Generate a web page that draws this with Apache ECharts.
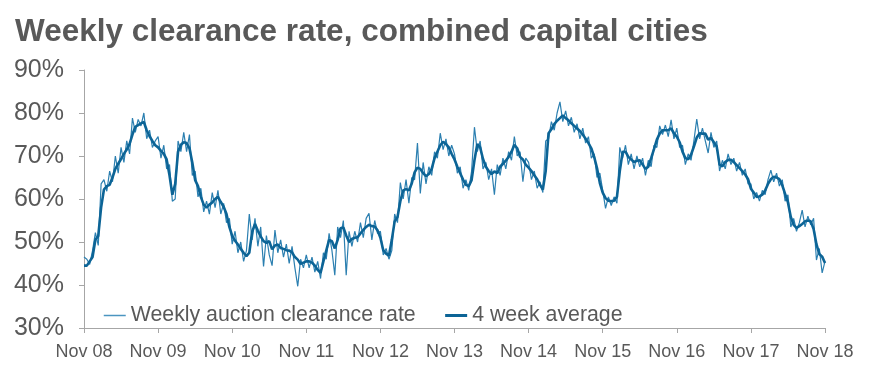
<!DOCTYPE html>
<html>
<head>
<meta charset="utf-8">
<script src="https://cdn.jsdelivr.net/npm/echarts@6/dist/echarts.min.js"></script>
<style>
html,body{margin:0;padding:0;background:#fff;}
#c{width:895px;height:382px;}
</style>
</head>
<body>
<div id="c"></div>
<script>
// x-axis tick labels (one per year, Nov 08 .. Nov 18)
var tickLabels = ['Nov 08','Nov 09','Nov 10','Nov 11','Nov 12','Nov 13','Nov 14','Nov 15','Nov 16','Nov 17','Nov 18'];
// samples every two weeks (26 per year), starting Nov 08
var pointsPerYear = 26;

var weekly = [
46.5,46.0,44.8,48.0,52.2,49.2,63.5,64.5,61.8,66.5,64.0,70.0,66.0,72.0,68.5,73.5,70.5,78.8,75.5,78.5,77.0,80.0,74.0,76.0,72.0,73.5,
74.5,69.5,72.5,67.0,68.0,59.5,60.0,73.5,71.0,75.5,71.0,75.0,65.5,66.5,60.5,62.5,57.0,59.5,56.5,61.5,58.0,62.0,56.5,59.0,54.5,55.5,
49.5,52.5,47.5,50.0,45.5,48.0,56.5,50.5,55.5,49.0,53.5,44.3,51.5,47.0,44.5,52.8,47.5,50.5,46.5,49.5,45.0,49.0,44.0,39.7,46.0,44.0,
47.0,44.0,46.5,43.0,45.5,41.5,47.5,46.0,52.0,48.0,42.3,53.5,51.0,55.0,42.3,52.5,49.0,52.5,50.0,54.5,51.0,55.5,56.7,50.5,55.0,52.0,
52.5,47.0,48.5,46.0,48.0,56.5,54.5,63.8,60.0,64.5,59.0,65.0,64.5,73.0,61.3,68.5,63.5,67.5,65.5,71.0,69.5,75.3,71.5,74.0,70.0,72.5,
70.5,66.0,67.5,62.5,64.5,62.0,66.5,76.7,71.0,73.5,67.0,68.5,64.5,67.0,61.0,68.0,65.5,69.5,67.0,71.0,69.0,74.5,70.0,71.0,64.0,69.5,
68.5,64.5,66.5,62.5,64.0,61.5,73.5,74.0,78.0,76.0,80.0,82.6,78.0,80.5,77.0,79.0,75.5,77.5,74.0,76.5,73.0,74.5,69.5,70.5,65.0,66.0,
62.0,57.8,60.5,58.5,60.5,59.0,72.0,69.5,72.5,68.0,70.5,67.0,70.0,67.5,69.5,65.5,69.0,67.5,72.5,72.0,77.0,75.0,77.2,74.5,78.4,74.0,
76.5,72.0,72.5,68.0,70.5,69.0,73.5,78.6,74.0,76.5,73.5,70.7,75.5,72.0,73.5,66.5,69.0,67.0,70.5,68.0,69.5,66.5,68.5,65.5,67.0,63.5,
63.5,60.0,61.5,59.5,62.0,61.0,64.5,66.7,64.0,66.0,63.0,64.5,59.5,61.0,53.5,55.5,52.5,54.5,57.4,53.5,56.0,54.0,55.5,45.8,48.5,42.8,45.5
];

var average4w = [
44.5,44.5,45.5,46.5,50.5,51.4,58.0,62.2,63.0,63.3,65.0,67.0,68.2,69.3,70.5,71.5,72.8,75.0,76.8,77.2,77.6,77.9,76.0,74.6,73.5,72.5,
72.0,71.2,70.5,69.2,65.5,61.0,63.5,71.0,72.6,73.2,73.0,71.8,68.5,64.4,63.0,60.5,58.7,58.0,58.7,59.2,60.0,60.5,59.3,58.2,56.5,53.5,
51.4,50.3,49.4,48.4,47.5,46.7,47.5,52.4,54.2,52.6,51.3,50.2,49.8,50.2,48.3,49.2,49.4,48.6,48.4,48.1,48.0,47.6,46.5,45.9,44.9,45.2,
45.5,45.5,45.2,44.5,43.5,42.8,45.5,48.0,50.5,50.2,48.5,50.5,53.2,53.4,51.5,50.0,50.7,51.0,51.1,52.0,52.8,53.5,54.0,53.7,53.6,52.7,
51.0,48.1,47.3,46.8,50.5,54.8,55.8,59.5,62.0,62.3,62.0,63.6,66.2,67.3,67.0,66.0,65.3,65.8,67.0,69.5,71.0,72.5,73.3,72.8,72.0,70.5,
69.2,67.5,66.0,64.5,63.3,63.0,64.4,69.0,72.8,72.0,69.3,67.5,66.5,65.8,66.4,66.0,67.5,68.2,68.9,69.8,71.0,72.6,71.8,69.8,69.2,68.0,
67.3,66.5,65.5,64.6,63.3,62.2,66.5,75.3,76.2,77.4,78.2,78.8,79.4,78.8,78.3,77.6,77.0,76.4,75.8,75.0,74.0,73.0,71.8,69.8,67.2,63.7,
61.5,60.2,59.6,59.5,59.6,60.5,66.5,71.0,71.0,69.8,69.2,68.6,68.9,69.0,68.0,67.0,67.5,69.5,71.6,73.8,75.2,76.0,76.0,76.0,76.4,75.3,
74.5,73.2,71.0,69.5,69.2,70.3,72.2,74.3,75.3,75.2,75.2,73.8,74.2,73.2,72.2,68.0,67.6,68.6,69.1,69.1,68.6,67.9,67.2,66.5,65.7,64.6,
62.4,61.5,60.5,60.6,61.0,62.0,63.5,64.6,65.2,65.0,64.6,63.2,61.2,59.2,55.8,54.0,53.3,53.7,54.2,54.8,55.0,54.8,53.0,49.5,47.2,46.6,45.1
];

function toPairs(arr){
  return arr.map(function(v,i){ return [i/pointsPerYear, v]; });
}

var textColor = '#595959';
var axisColor = '#a6a6a6';
var lineColorWeekly = '#2b7fb0';
var lineColorAvg = '#0c6496';
var fontFam = '"Liberation Sans", Arial, sans-serif';

var chart = echarts.init(document.getElementById('c'), null, {renderer:'canvas'});
chart.setOption({
  animation:false,
  backgroundColor:'#fff',
  title:{
    text:'Weekly clearance rate, combined capital cities',
    left:10, top:11,
    textStyle:{fontFamily:fontFam, fontSize:31.5, fontWeight:'bold', color:textColor}
  },
  grid:{left:84, right:70, top:70, bottom:54, containLabel:false},
  legend:{
    left:98, top:300,
    itemWidth:22, itemHeight:12, itemGap:28,
    itemStyle:{opacity:0, borderWidth:0},
    textStyle:{fontFamily:fontFam, fontSize:21.3, color:textColor},
    data:[
      {name:'Weekly auction clearance rate', lineStyle:{color:'#4b95c0', width:1.5}},
      {name:'4 week average', lineStyle:{color:lineColorAvg, width:3}}
    ]
  },
  xAxis:{
    type:'value', min:0, max:tickLabels.length-1, interval:1,
    axisLine:{show:true, lineStyle:{color:axisColor, width:1}},
    axisTick:{show:true, length:5, lineStyle:{color:axisColor}},
    splitLine:{show:false},
    axisLabel:{
      margin:15, fontFamily:fontFam, fontSize:18, color:textColor,
      formatter:function(v){ return tickLabels[Math.round(v)] || ''; }
    }
  },
  yAxis:{
    type:'value', min:30, max:90, interval:10,
    axisLine:{show:true, lineStyle:{color:axisColor, width:1}},
    axisTick:{show:true, length:5, lineStyle:{color:axisColor}},
    splitLine:{show:false},
    axisLabel:{margin:20, fontFamily:fontFam, fontSize:25, color:textColor, formatter:'{value}%'}
  },
  series:[
    {
      name:'Weekly auction clearance rate', type:'line', symbol:'none',
      data:toPairs(weekly),
      lineStyle:{color:lineColorWeekly, width:1.2},
      itemStyle:{color:lineColorWeekly},
      z:2
    },
    {
      name:'4 week average', type:'line', symbol:'none',
      data:toPairs(average4w),
      lineStyle:{color:lineColorAvg, width:2.6},
      itemStyle:{color:lineColorAvg},
      z:3
    }
  ]
});
</script>
</body>
</html>
